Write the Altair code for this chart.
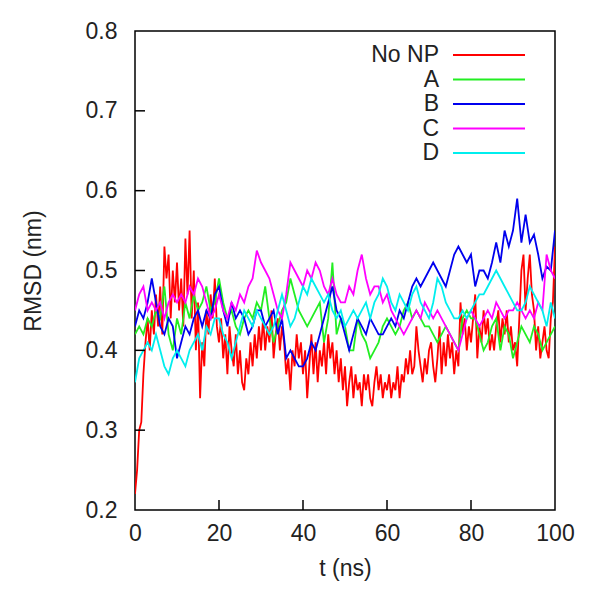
import altair as alt
import pandas as pd

series_names = ["No NP", "A", "B", "C", "D"]
series_colors = ["#ff0000", "#22ee22", "#0000ee", "#ff00ff", "#00eeee"]

# No NP sampled every 0.5 ns, the others every 1 ns
no_np_step = 0.5
other_step = 1.0

no_np = [
    0.22, 0.25, 0.30, 0.31, 0.37, 0.41, 0.44, 0.40, 0.45, 0.42, 0.47,
    0.43, 0.48, 0.42, 0.53, 0.49, 0.52, 0.44, 0.50, 0.46, 0.51,
    0.45, 0.49, 0.43, 0.54, 0.47, 0.55, 0.44, 0.50, 0.40, 0.46,
    0.34, 0.41, 0.38, 0.45, 0.42, 0.47, 0.44, 0.49, 0.43, 0.41,
    0.44, 0.39, 0.42, 0.37, 0.43, 0.40, 0.38, 0.42, 0.37, 0.40,
    0.36, 0.35, 0.39, 0.37, 0.41, 0.38, 0.42, 0.39, 0.43, 0.40,
    0.44, 0.40, 0.43, 0.41, 0.45, 0.39, 0.42, 0.44, 0.40, 0.43,
    0.41, 0.37, 0.39, 0.35, 0.40, 0.38, 0.42, 0.39, 0.41, 0.37,
    0.40, 0.34, 0.38, 0.42, 0.37, 0.41, 0.36, 0.40, 0.38, 0.41,
    0.37, 0.42, 0.39, 0.41, 0.37, 0.40, 0.36, 0.39, 0.35, 0.38,
    0.33, 0.36, 0.38, 0.34, 0.37, 0.35, 0.36, 0.33, 0.37, 0.35,
    0.37, 0.34, 0.33, 0.36, 0.38, 0.35, 0.37, 0.34, 0.36, 0.35,
    0.37, 0.34, 0.36, 0.35, 0.38, 0.34, 0.37, 0.36, 0.39, 0.37,
    0.40, 0.37, 0.38, 0.43, 0.40, 0.38, 0.36, 0.39, 0.37, 0.40,
    0.41, 0.38, 0.36, 0.39, 0.43, 0.37, 0.41, 0.38, 0.42, 0.39,
    0.41, 0.37, 0.40, 0.38, 0.46, 0.42, 0.44, 0.40, 0.43, 0.41,
    0.44, 0.47, 0.39, 0.43, 0.41, 0.45, 0.42, 0.44, 0.40, 0.42,
    0.40, 0.43, 0.45, 0.41, 0.44, 0.42, 0.45, 0.41, 0.43, 0.40,
    0.41, 0.38, 0.44, 0.50, 0.52, 0.45, 0.49, 0.52, 0.47, 0.45,
    0.40, 0.43, 0.39, 0.41, 0.43, 0.40, 0.39, 0.44, 0.46, 0.53,
]

a_vals = [
    0.42, 0.43, 0.42, 0.44, 0.43, 0.45, 0.44, 0.48, 0.42, 0.40,
    0.44, 0.42, 0.46, 0.44, 0.47, 0.45, 0.46, 0.48, 0.45, 0.46,
    0.49, 0.46, 0.44, 0.45, 0.43, 0.42, 0.44, 0.45, 0.44, 0.46,
    0.45, 0.48, 0.44, 0.41, 0.43, 0.45, 0.46, 0.49, 0.47, 0.45,
    0.44, 0.43, 0.44, 0.45, 0.46, 0.41, 0.44, 0.51, 0.42, 0.44,
    0.43, 0.40, 0.40, 0.44, 0.42, 0.41, 0.39, 0.40, 0.41, 0.43,
    0.44, 0.43, 0.42, 0.43, 0.45, 0.46, 0.44, 0.45, 0.44, 0.43,
    0.43, 0.42, 0.41, 0.42, 0.43, 0.42, 0.41, 0.40, 0.44, 0.45,
    0.44, 0.44, 0.42, 0.40, 0.41, 0.43, 0.44, 0.40, 0.43, 0.42,
    0.39, 0.41, 0.43, 0.42, 0.41, 0.43, 0.42, 0.40, 0.41, 0.42,
    0.43,
]

b_vals = [
    0.43, 0.45, 0.44, 0.46, 0.49, 0.46, 0.43, 0.42, 0.44, 0.43,
    0.39, 0.41, 0.43, 0.42, 0.44, 0.45, 0.43, 0.45, 0.44, 0.47,
    0.48, 0.45, 0.43, 0.46, 0.44, 0.45, 0.44, 0.42, 0.43, 0.45,
    0.45, 0.43, 0.44, 0.45, 0.42, 0.44, 0.39, 0.40, 0.39, 0.38,
    0.38, 0.39, 0.41, 0.40, 0.42, 0.44, 0.46, 0.48, 0.45, 0.44,
    0.42, 0.40, 0.42, 0.44, 0.43, 0.42, 0.44, 0.43, 0.42, 0.42,
    0.43, 0.44, 0.43, 0.45, 0.44, 0.46, 0.48, 0.49, 0.48, 0.49,
    0.50, 0.51, 0.50, 0.49, 0.48, 0.50, 0.52, 0.53, 0.52, 0.51,
    0.52, 0.48, 0.50, 0.50, 0.49, 0.51, 0.535, 0.51, 0.55, 0.53,
    0.55, 0.59, 0.535, 0.57, 0.535, 0.545, 0.52, 0.49, 0.505, 0.50,
    0.55,
]

c_vals = [
    0.45, 0.47, 0.48, 0.45, 0.46, 0.45, 0.46, 0.44, 0.46, 0.47,
    0.46, 0.47, 0.46, 0.48, 0.47, 0.49, 0.48, 0.46, 0.44, 0.45,
    0.47, 0.45, 0.44, 0.46, 0.45, 0.47, 0.46, 0.48, 0.49, 0.525,
    0.51, 0.50, 0.49, 0.47, 0.45, 0.44, 0.47, 0.51, 0.50, 0.49,
    0.48, 0.50, 0.49, 0.51, 0.50, 0.48, 0.47, 0.49, 0.47, 0.46,
    0.46, 0.48, 0.47, 0.50, 0.52, 0.49, 0.47, 0.48, 0.48, 0.46,
    0.47, 0.45, 0.44, 0.43, 0.42, 0.43, 0.44, 0.45, 0.44, 0.46,
    0.45, 0.44, 0.45, 0.44, 0.43, 0.42, 0.41, 0.40, 0.42, 0.44,
    0.45, 0.44, 0.43, 0.44, 0.45, 0.44, 0.46, 0.45, 0.44, 0.45,
    0.45, 0.46, 0.45, 0.44, 0.45, 0.44, 0.46, 0.45, 0.52, 0.50,
    0.49,
]

d_vals = [
    0.36, 0.39, 0.40, 0.41, 0.40, 0.42, 0.40, 0.38, 0.37, 0.39,
    0.40, 0.39, 0.38, 0.40, 0.41, 0.42, 0.40, 0.43, 0.42, 0.44,
    0.44, 0.42, 0.41, 0.39, 0.41, 0.43, 0.45, 0.44, 0.43, 0.45,
    0.44, 0.43, 0.42, 0.43, 0.45, 0.47, 0.45, 0.43, 0.44, 0.46,
    0.48, 0.47, 0.49, 0.48, 0.47, 0.46, 0.47, 0.45, 0.44, 0.45,
    0.43, 0.44, 0.45, 0.44, 0.45, 0.46, 0.44, 0.46, 0.47, 0.49,
    0.48, 0.46, 0.45, 0.47, 0.46, 0.45, 0.47, 0.48, 0.46, 0.45,
    0.44, 0.46, 0.49, 0.48, 0.46, 0.45, 0.44, 0.44, 0.45, 0.44,
    0.45, 0.46, 0.47, 0.47, 0.48, 0.49, 0.50, 0.49, 0.48, 0.47,
    0.46, 0.45, 0.45, 0.46, 0.48, 0.47, 0.46, 0.45, 0.43, 0.46,
    0.44,
]

x_ticks = [0, 20, 40, 60, 80, 100]
y_ticks = [0.2, 0.3, 0.4, 0.5, 0.6, 0.7, 0.8]

rows = []
for name, vals, step in [
    ("No NP", no_np, no_np_step),
    ("A", a_vals, other_step),
    ("B", b_vals, other_step),
    ("C", c_vals, other_step),
    ("D", d_vals, other_step),
]:
    for i, v in enumerate(vals):
        rows.append({"t": i * step, "rmsd": v, "series": name, "k": series_names.index(name)})
df = pd.DataFrame(rows)

FONT = "Liberation Sans"
W, H = 420, 479

xs = alt.Scale(domain=[0, 100], nice=False, zero=False)
ys = alt.Scale(domain=[0.2, 0.8], nice=False, zero=False)
color = alt.Color("series:N", scale=alt.Scale(domain=series_names, range=series_colors), legend=None)

x_axis = alt.Axis(values=x_ticks, title="t (ns)", ticks=False, domain=False, grid=False,
                  labelPadding=12, titlePadding=12, labelFlush=False)

lines = alt.Chart(df).mark_line(strokeWidth=1.8, clip=True).encode(
    x=alt.X("t:Q", scale=xs, axis=x_axis, title="t (ns)"),
    y=alt.Y("rmsd:Q", scale=ys, axis=alt.Axis(values=y_ticks, format=".1f", title="RMSD (nm)",
                                              ticks=False, domain=False, grid=False,
                                              labelPadding=18, titlePadding=40, labelFlush=False)),
    color=color,
    detail="k:O",
)

ytick_df = pd.DataFrame({"v": y_ticks[1:-1]})
ytick_marks = alt.Chart(ytick_df).mark_rule(color="black", strokeWidth=1.5).encode(
    y=alt.Y("v:Q", scale=ys, axis=None), x=alt.value(0), x2=alt.value(10)
)
xtick_df = pd.DataFrame({"v": x_ticks[1:-1]})
xtick_marks = alt.Chart(xtick_df).mark_rule(color="black", strokeWidth=1.5).encode(
    x=alt.X("v:Q", scale=xs, axis=x_axis, title="t (ns)"), y=alt.value(H), y2=alt.value(H - 10)
)

leg_df = pd.DataFrame({"series": series_names})
leg_y = alt.Y("series:N", scale=alt.Scale(type="point", domain=series_names, range=[24, 122], padding=0), axis=None)
leg_rules = alt.Chart(leg_df).mark_rule(strokeWidth=1.8).encode(
    y=leg_y, x=alt.value(318), x2=alt.value(390), color=color
)
leg_text = alt.Chart(leg_df).mark_text(align="right", baseline="middle", font=FONT, fontSize=23,
                                       color="#222222").encode(
    y=leg_y, x=alt.value(304), text="series:N"
)

chart = alt.layer(lines, ytick_marks, xtick_marks, leg_rules, leg_text).resolve_scale(
    y="independent"
).properties(
    width=W, height=H,
    padding={"left": 127, "top": 23, "right": 39, "bottom": 88},
    autosize=alt.AutoSizeParams(type="none"),
).configure_view(
    stroke="black", strokeWidth=1.5
).configure_axis(
    labelFont=FONT, titleFont=FONT, labelFontSize=23, titleFontSize=23,
    labelColor="#222222", titleColor="#222222", titleFontWeight="normal",
)

chart.save("out.html", embed_options={"renderer": "svg", "actions": False})
